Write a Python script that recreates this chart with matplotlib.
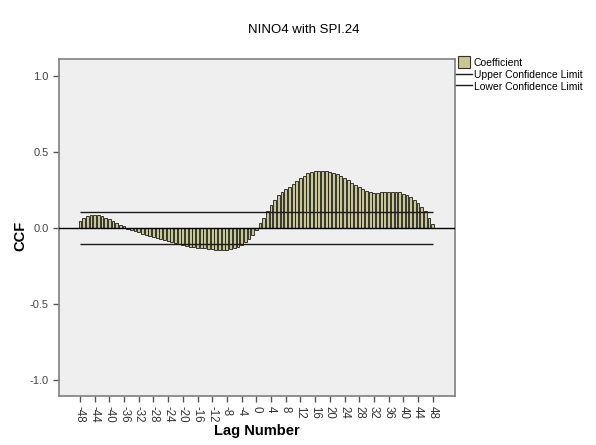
import matplotlib
matplotlib.use("Agg")
import matplotlib.pyplot as plt
from matplotlib.lines import Line2D

plt.rcParams['font.family'] = ['Liberation Sans', 'DejaVu Sans']

lags = list(range(-48, 49))
ccf = [
    0.048, 0.070, 0.083, 0.088, 0.089, 0.085, 0.079, 0.070, 0.060, 0.050,   # -48..-39
    0.037, 0.024, 0.011, -0.003, -0.012, -0.020, -0.028, -0.036, -0.044, -0.052,  # -38..-29
    -0.060, -0.067, -0.074, -0.080, -0.087, -0.094, -0.100, -0.107, -0.113, -0.118,  # -28..-19
    -0.122, -0.125, -0.128, -0.130, -0.133, -0.136, -0.139, -0.143, -0.145, -0.146,  # -18..-9
    -0.144, -0.139, -0.133, -0.125, -0.112, -0.093, -0.072, -0.045, -0.012,  # -8..0
    0.033, 0.070, 0.113, 0.150, 0.186, 0.218, 0.237, 0.255, 0.270, 0.290,  # 1..10
    0.312, 0.330, 0.345, 0.360, 0.370, 0.375, 0.377, 0.377, 0.376, 0.370,  # 11..20
    0.364, 0.355, 0.345, 0.330, 0.314, 0.300, 0.287, 0.274, 0.255, 0.243,  # 21..30
    0.236, 0.231, 0.232, 0.235, 0.237, 0.239, 0.238, 0.237, 0.235, 0.228,  # 31..40
    0.216, 0.203, 0.186, 0.166, 0.142, 0.115, 0.065, 0.028,  # 41..48
]
upper_limit = 0.104
lower_limit = -0.104
xticks = list(range(-48, 49, 4))
yticks = [-1.0, -0.5, 0.0, 0.5, 1.0]

bar_color = '#CAC692'

fig = plt.figure(figsize=(5.96, 4.45), dpi=100)
ax = fig.add_axes([0.099, 0.110, 0.664, 0.757])
ax.set_facecolor('#EFEFEF')

ax.bar(lags, ccf, width=0.78, color=bar_color, edgecolor='#1a1a1a', linewidth=0.6, zorder=2)
ax.axhline(0, color='black', linewidth=1.0, zorder=3)
ax.hlines([upper_limit, lower_limit], -48, 48, color='#1a1a1a', linewidth=1.0, zorder=3)

ax.set_xlim(-53.7, 54.0)
ax.set_ylim(-1.105, 1.112)
ax.set_xticks(xticks)
ax.set_xticklabels([str(t) for t in xticks], rotation=-90, fontsize=8.3, color='#333333')
ax.set_yticks(yticks)
ax.set_yticklabels([f"{t:.1f}" for t in yticks], fontsize=8, color='#444444')
ax.tick_params(axis='both', direction='out', length=4, width=1.0, color='#555555')

for s in ax.spines.values():
    s.set_color('#7f7f7f')
    s.set_linewidth(1.2)

fig.text(257 / 596, 1 - 431 / 445, 'Lag Number', ha='center', va='center',
         fontsize=10.5, fontweight='bold')
fig.text(20 / 596, 1 - 236 / 445, 'CCF', ha='center', va='center', rotation=90,
         fontsize=10.5, fontweight='bold')

fig.text(0.51, 0.932, 'NINO4 with SPI.24', ha='center', va='center', fontsize=9.5)

handles = [
    Line2D([0], [0], marker='s', markersize=8, markerfacecolor=bar_color,
           markeredgecolor='#333333', markeredgewidth=0.8, linestyle='None'),
    Line2D([0], [0], color='#1a1a1a', linewidth=1.0),
    Line2D([0], [0], color='#1a1a1a', linewidth=1.0),
]
labels = ['Coefficient', 'Upper Confidence Limit', 'Lower Confidence Limit']
fig.legend(handles, labels, loc='upper left', bbox_to_anchor=(0.762, 0.875),
           frameon=False, fontsize=7.5, handlelength=1.5, handleheight=1.0,
           handletextpad=0.2, labelspacing=0.15, borderaxespad=0, borderpad=0.2)

fig.savefig('out.png', dpi=100)
